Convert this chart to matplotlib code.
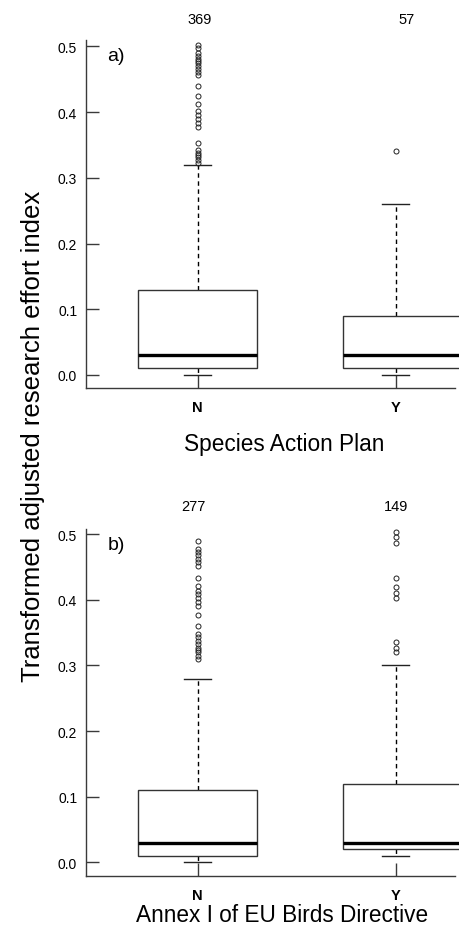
import matplotlib
matplotlib.use("Agg")
import matplotlib.pyplot as plt
from matplotlib.patches import Rectangle

plt.rcParams['font.family'] = ['Liberation Sans', 'DejaVu Sans']

# ---------------- data ----------------
categories = ["N", "Y"]

# panel a) Species Action Plan
a_q1 = [0.01, 0.01]
a_med = [0.03, 0.03]
a_q3 = [0.13, 0.09]
a_whislo = [0.0, 0.0]
a_whishi = [0.32, 0.26]
a_n = [369, 57]
a_fliers_N = [0.502, 0.497, 0.490, 0.485, 0.481, 0.478, 0.474, 0.470, 0.466, 0.461, 0.456,
              0.439, 0.425, 0.412, 0.402, 0.395, 0.389, 0.383, 0.377,
              0.353, 0.342, 0.338, 0.334, 0.331, 0.327, 0.323]
a_fliers_Y = [0.34]

# panel b) Annex I of EU Birds Directive
b_q1 = [0.01, 0.02]
b_med = [0.03, 0.03]
b_q3 = [0.11, 0.12]
b_whislo = [0.0, 0.01]
b_whishi = [0.28, 0.30]
b_n = [277, 149]
b_fliers_N = [0.489, 0.477, 0.473, 0.469, 0.462, 0.457, 0.451, 0.434, 0.421, 0.414,
              0.409, 0.403, 0.397, 0.390, 0.377, 0.360, 0.348, 0.343, 0.338, 0.333,
              0.327, 0.324, 0.320, 0.315, 0.310]
b_fliers_Y = [0.503, 0.495, 0.487, 0.433, 0.420, 0.411, 0.403, 0.335, 0.327, 0.320]

yticks = [0.0, 0.1, 0.2, 0.3, 0.4, 0.5]
ytick_labels = ["0.0", "0.1", "0.2", "0.3", "0.4", "0.5"]

# ---------------- figure ----------------
W, H = 459, 928
fig = plt.figure(figsize=(W / 100, H / 100), dpi=100)

def px(x, y):
    return x / W, 1 - y / H

box_left = [0.30, 0.264]
box_right = [0.30, 0.34]
spine_col = "#3a3a3a"

def panel(rect, q1, med, q3, wlo, whi, fliers, ylim, letter, xlabel, n, npos, xlabel_pos):
    ax = fig.add_axes(rect)
    positions = [1, 2]
    stats = []
    for i in range(2):
        stats.append(dict(med=med[i], q1=q1[i], q3=q3[i], whislo=wlo[i], whishi=whi[i],
                          fliers=fliers[i], label=categories[i]))
    ax.bxp(stats, positions=positions, showbox=False, showcaps=True, showfliers=True,
           capwidths=0.136,
           whiskerprops=dict(color="black", linestyle=(0, (3.2, 2.6)), linewidth=1.0),
           capprops=dict(color="#222222", linewidth=1.0),
           medianprops=dict(linewidth=0),
           flierprops=dict(marker="o", markersize=3.6, markerfacecolor="none",
                           markeredgecolor="#222222", markeredgewidth=0.7, linestyle="none"))
    for i, p in enumerate(positions):
        r = Rectangle((p - box_left[i], q1[i]), box_left[i] + box_right[i], q3[i] - q1[i],
                      facecolor="white", edgecolor="#333333", linewidth=1.0, zorder=3,
                      clip_on=False)
        ax.add_patch(r)
        ax.plot([p - box_left[i], p + box_right[i]], [med[i], med[i]], color="black",
                linewidth=2.4, solid_capstyle="butt", zorder=4, clip_on=False)
    ax.set_xlim(0.4374, 2.299)
    ax.set_ylim(*ylim)
    ax.set_yticks(yticks)
    ax.set_yticklabels(ytick_labels)
    ax.set_xticks(positions)
    ax.set_xticklabels(categories, fontweight="bold")
    for s in ["top", "right"]:
        ax.spines[s].set_visible(False)
    for s in ["left", "bottom"]:
        ax.spines[s].set_color(spine_col)
        ax.spines[s].set_linewidth(1.0)
    ax.tick_params(axis="y", direction="in", length=9.4, width=1.0, color=spine_col,
                   labelsize=10, pad=6.3)
    ax.tick_params(axis="x", direction="in", length=9.4, width=1.0, color=spine_col,
                   labelsize=10.5, pad=9)
    ax.text(0.058, 0.955, letter, transform=ax.transAxes, fontsize=14,
            ha="left", va="center")
    for i in range(2):
        x, y = npos[i]
        fig.text(*px(x, y), str(n[i]), ha="center", va="center", fontsize=10.5)
    fig.text(*px(*xlabel_pos), xlabel, ha="center", va="center", fontsize=16.3)
    return ax

panel([86 / W, 1 - 389 / H, (455 - 86) / W, (389 - 41) / H],
      a_q1, a_med, a_q3, a_whislo, a_whishi, [a_fliers_N, a_fliers_Y],
      (-0.0198, 0.5096), "a)", "Species Action Plan", a_n,
      [(200, 20), (407, 20)], (284, 445))

panel([86 / W, 1 - 876.7 / H, (455 - 86) / W, (876.7 - 529.5) / H],
      b_q1, b_med, b_q3, b_whislo, b_whishi, [b_fliers_N, b_fliers_Y],
      (-0.0204, 0.5087), "b)", "Annex I of EU Birds Directive", b_n,
      [(193, 507), (396, 507)], (282.5, 916))

fig.text(*px(33, 436), "Transformed adjusted research effort index", rotation=90,
         ha="center", va="center", fontsize=18.5)

fig.savefig("out.png", dpi=100)
